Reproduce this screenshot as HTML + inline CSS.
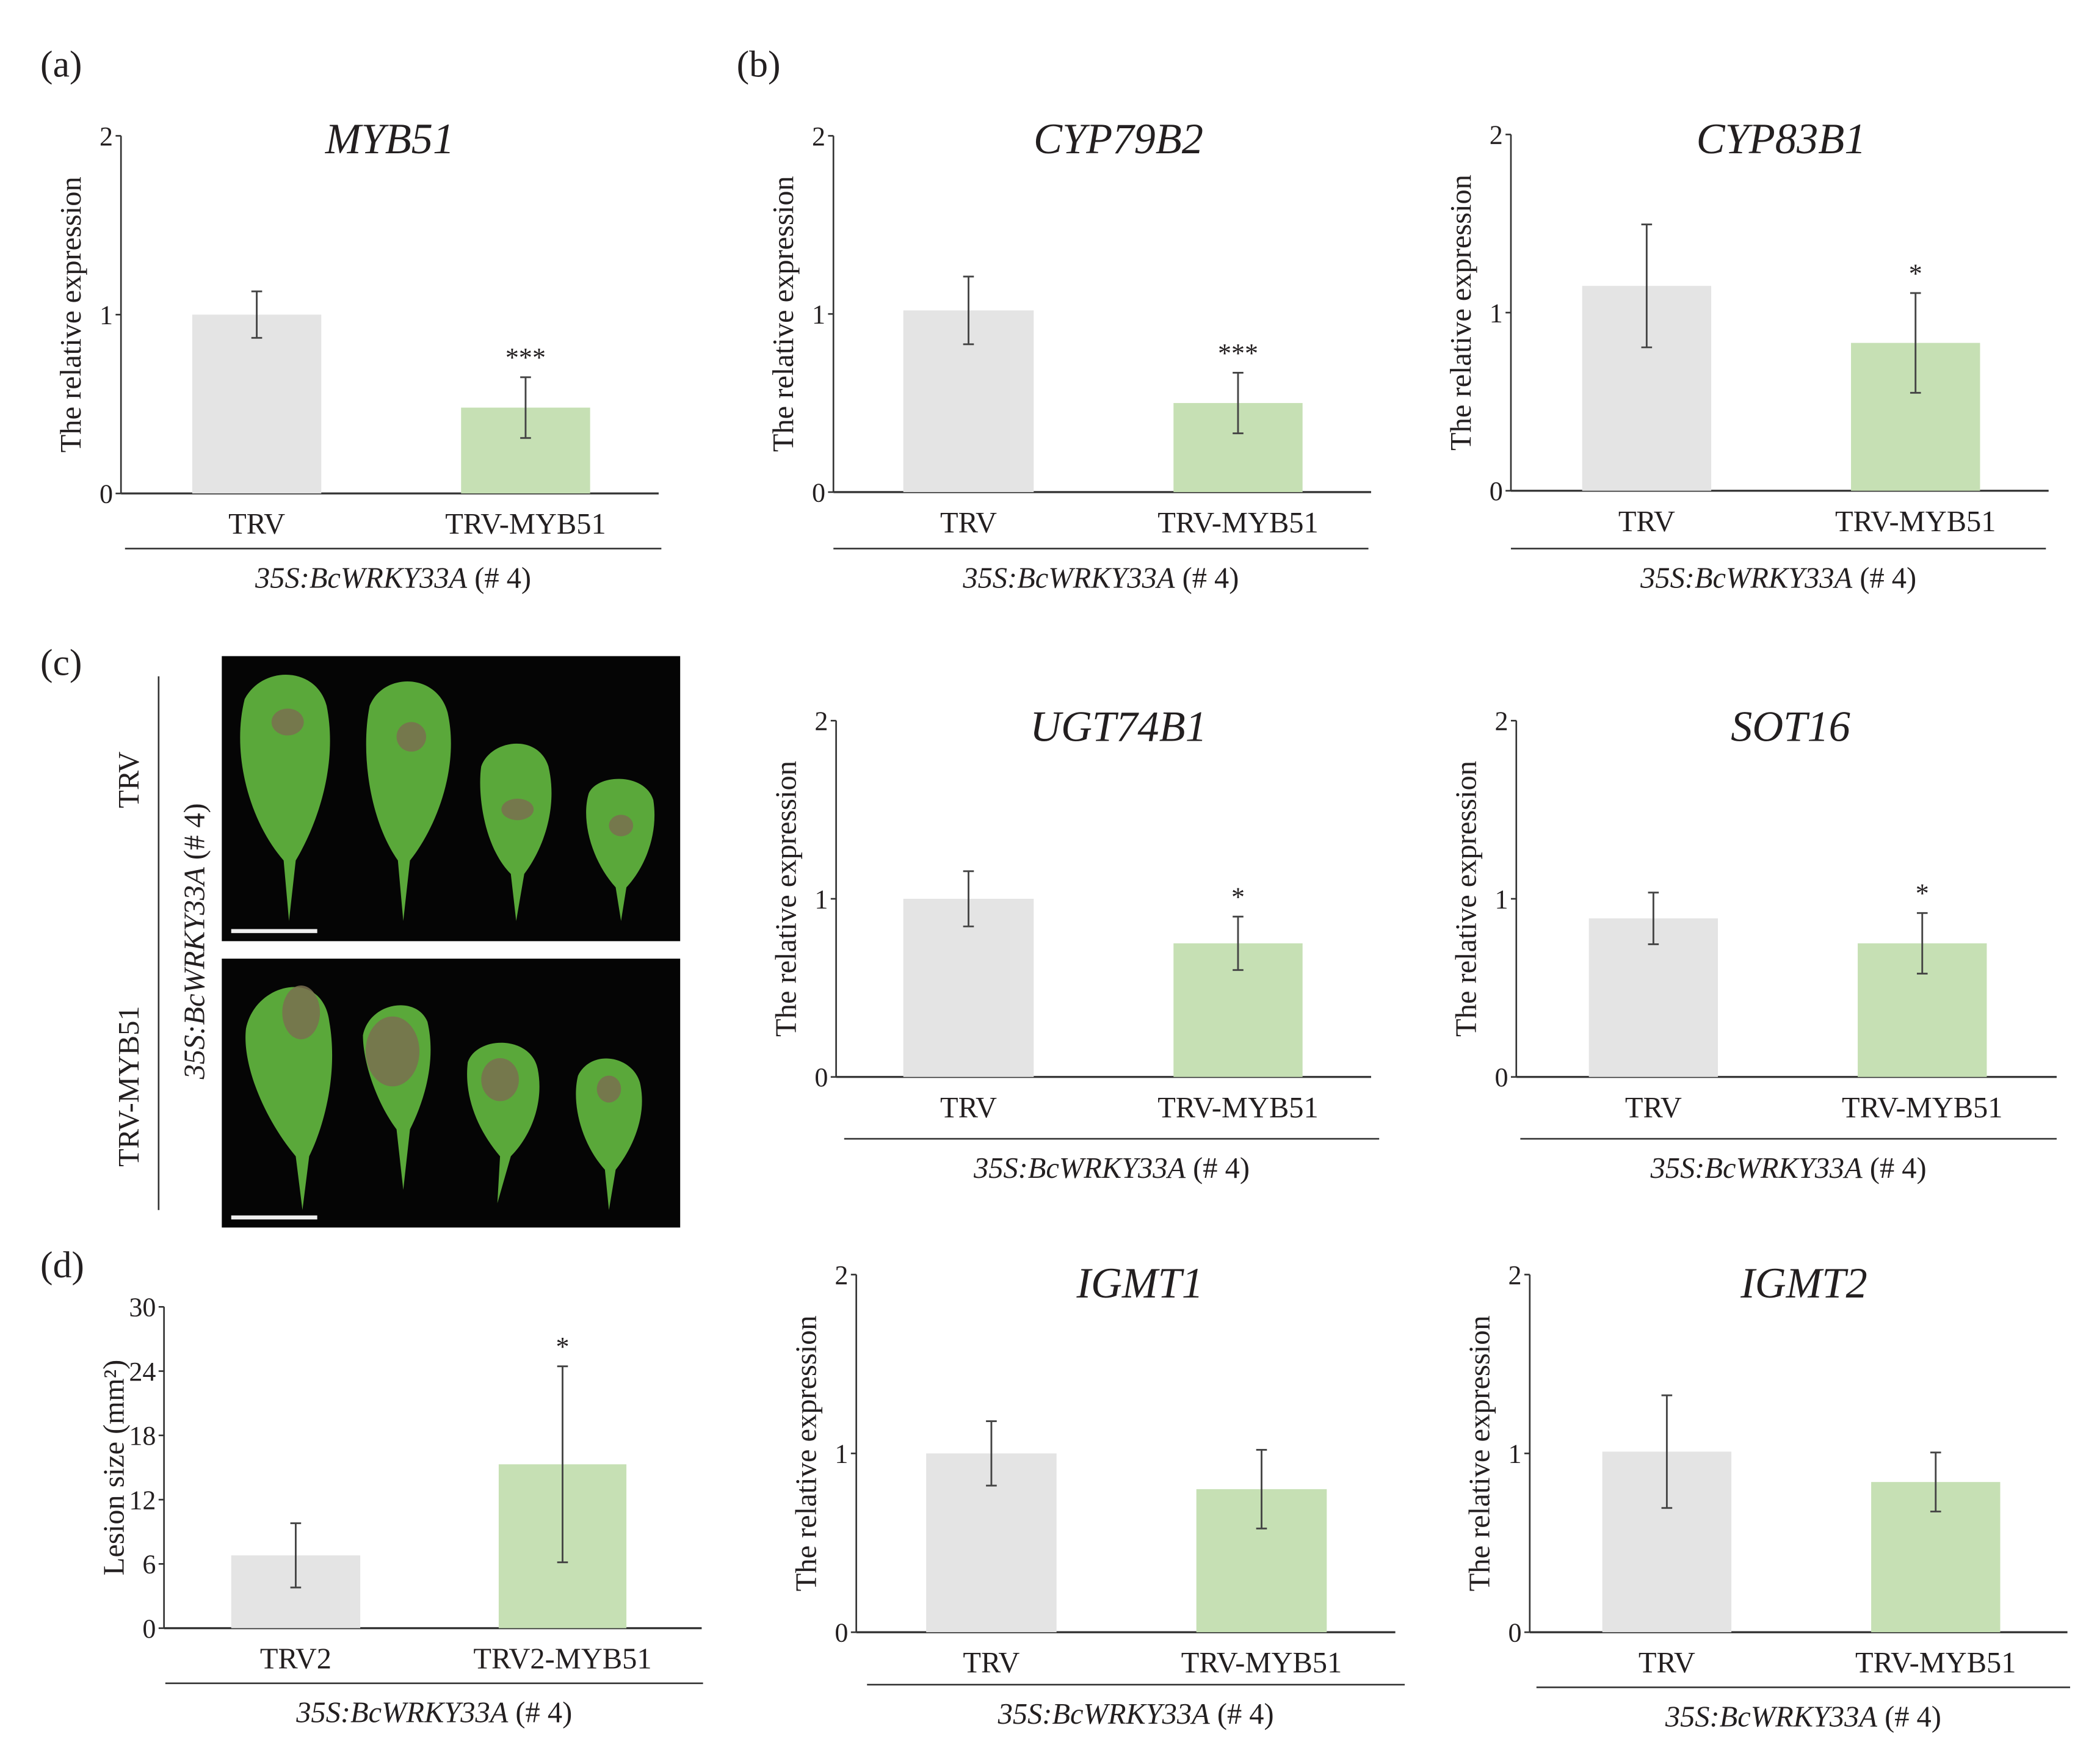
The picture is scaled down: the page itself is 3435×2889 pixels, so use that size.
<!DOCTYPE html>
<html><head><meta charset="utf-8"><style>
html,body{margin:0;padding:0;background:#fff}
svg{display:block;font-family:"Liberation Serif","Times New Roman","DejaVu Serif",serif}
text{font-family:"Liberation Serif","Times New Roman","DejaVu Serif",serif;fill:#231f20}
</style></head><body>
<svg id="fig" width="3435" height="2889" viewBox="0 0 1560 1312" font-family="Liberation Serif, Times New Roman, DejaVu Serif, serif" xmlns="http://www.w3.org/2000/svg">
<text x="30" y="57" font-size="28">(a)</text>
<text x="548" y="57" font-size="28">(b)</text>
<text x="30" y="502" font-size="28">(c)</text>
<text x="30" y="950" font-size="28">(d)</text>
<g>
<line x1="118" y1="503" x2="118" y2="900" stroke="#333" stroke-width="1.2"/>
<text transform="translate(103,580) rotate(-90)" text-anchor="middle" font-size="22">TRV</text>
<text transform="translate(103,808) rotate(-90)" text-anchor="middle" font-size="22">TRV-MYB51</text>
<text transform="translate(152,700) rotate(-90)" text-anchor="middle" font-size="22"><tspan font-style="italic">35S:BcWRKY33A</tspan> (# 4)</text>
<rect x="165" y="488" width="341" height="212" fill="#050505"/>
<rect x="165" y="713" width="341" height="200" fill="#050505"/>
<g fill="#5aa83a">
<path d="M215 685 L211 640 C185 610 172 560 182 520 C195 495 235 495 243 525 C252 570 235 615 220 640 Z"/>
<path d="M300 685 L296 640 C275 610 268 560 275 525 C285 500 325 500 333 530 C342 570 325 615 305 640 Z"/>
<path d="M384 685 L380 650 C360 630 355 590 358 570 C365 550 400 545 408 570 C415 600 405 630 390 650 Z"/>
<path d="M462 685 L458 660 C440 640 432 610 438 590 C445 575 480 575 486 595 C490 620 480 645 466 660 Z"/>
<path d="M225 900 L220 860 C195 830 180 790 183 765 C190 730 240 720 245 760 C252 800 240 840 230 860 Z"/>
<path d="M300 885 L295 840 C280 820 270 790 270 770 C275 745 310 740 318 760 C325 790 315 820 305 840 Z"/>
<path d="M370 895 L372 860 C355 840 345 815 348 790 C355 770 395 770 400 795 C405 820 395 845 380 860 Z"/>
<path d="M453 900 L450 870 C432 850 425 820 430 800 C440 780 470 785 476 805 C482 830 470 855 458 870 Z"/>
</g>
<g fill="#7a7050" opacity="0.85">
<ellipse cx="214" cy="537" rx="12" ry="10"/><ellipse cx="306" cy="548" rx="11" ry="11"/>
<ellipse cx="385" cy="602" rx="12" ry="8"/><ellipse cx="462" cy="614" rx="9" ry="8"/>
<ellipse cx="224" cy="753" rx="14" ry="20"/><ellipse cx="292" cy="782" rx="20" ry="26"/>
<ellipse cx="372" cy="803" rx="14" ry="16"/><ellipse cx="453" cy="810" rx="9" ry="10"/>
</g>
<rect x="172" y="691" width="64" height="3" fill="#eee"/>
<rect x="172" y="904" width="64" height="3" fill="#eee"/>
</g>
<g id="charts"></g>
</svg>
<script>
// ---- data ----
const chartTitles = ["MYB51","CYP79B2","CYP83B1","UGT74B1","SOT16","IGMT1","IGMT2"];
const categories = ["TRV","TRV-MYB51"];
const meanTRV = [1.0, 1.02, 1.15, 1.0, 0.89, 1.0, 1.01];
const meanMYB = [0.48, 0.5, 0.83, 0.75, 0.75, 0.8, 0.84];
const errTRV = [0.13, 0.19, 0.345, 0.155, 0.145, 0.18, 0.315];
const errMYB = [0.17, 0.17, 0.28, 0.15, 0.17, 0.22, 0.165];
const sigMarks = ["***","***","*","*","*","",""];
const yTicks = [0,1,2];
const lesionCategories = ["TRV2","TRV2-MYB51"];
const lesionMeans = [6.8, 15.3];
const lesionErr = [3.0, 9.15];
const lesionSig = ["","*"];
const lesionTicks = [0,6,12,18,24,30];

// ---- layout (not data) ----
const layouts = [
 {ax:90,top:101,bot:367,right:490,b1:[143,239],b2:[343,439],gl:[93,492],gy:408,tx:290,ty:114},
 {ax:620,top:101,bot:366,right:1020,b1:[672,769],b2:[873,969],gl:[620,1018],gy:408,tx:832,ty:114},
 {ax:1124,top:100,bot:365,right:1524,b1:[1177,1273],b2:[1377,1473],gl:[1124,1522],gy:408,tx:1325,ty:114},
 {ax:622,top:536,bot:801,right:1020,b1:[672,769],b2:[873,969],gl:[628,1026],gy:847,tx:832,ty:551},
 {ax:1128,top:536,bot:801,right:1530,b1:[1182,1278],b2:[1382,1478],gl:[1131,1530],gy:847,tx:1332,ty:551},
 {ax:637,top:948,bot:1214,right:1038,b1:[689,786],b2:[890,987],gl:[645,1045],gy:1253,tx:848,ty:965},
 {ax:1138,top:948,bot:1214,right:1538,b1:[1192,1288],b2:[1392,1488],gl:[1143,1540],gy:1255,tx:1342,ty:965}
];
const NS="http://www.w3.org/2000/svg";
const root=document.getElementById('charts');
function mk(tag,attrs,parent,txt){const e=document.createElementNS(NS,tag);for(const k in attrs)e.setAttribute(k,attrs[k]);if(txt!==undefined)e.textContent=txt;parent.appendChild(e);return e;}

function drawChart(L,title,cats,vals,errs,sigs,ticks,ymax,ylabel,idx){
  const g=mk('g',{},root);
  
  
  const y=v=>L.bot-(v/ymax)*(L.bot-L.top);
  const ax=mk('line',{x1:L.ax,y1:L.top,x2:L.ax,y2:L.bot,stroke:'#333','stroke-width':1.2},g);
  
  
  const xa=mk('line',{x1:L.ax,y1:L.bot,x2:L.right,y2:L.bot,stroke:'#333','stroke-width':1.5},g);
  
  
  ticks.forEach(t=>{
    mk('line',{x1:L.ax-4,y1:y(t),x2:L.ax,y2:y(t),stroke:'#333','stroke-width':1.2},g);
    const tl=mk('text',{x:L.ax-6,y:y(t)+7,'text-anchor':'end','font-size':20},g,String(t));
    
    
  });
  const yl=mk('text',{transform:`translate(${L.ax-30},${(L.top+L.bot)/2}) rotate(-90)`,'text-anchor':'middle','font-size':22},g,ylabel);
  
  
  if(title){
    const tt=mk('text',{x:L.tx,y:L.ty,'text-anchor':'middle','font-size':32,'font-style':'italic'},g,title);
    
    
  }
  const bars=[L.b1,L.b2], cols=['#e4e4e4','#c6e0b4'];
  vals.forEach((v,i)=>{
    const b=bars[i];
    const r=mk('rect',{x:b[0],y:y(v),width:b[1]-b[0],height:L.bot-y(v),fill:cols[i]},g);
    
    
    const cx=(b[0]+b[1])/2, lo=y(v-errs[i]), hi=y(v+errs[i]);
    const eb=mk('path',{d:`M${cx} ${lo}V${hi}M${cx-4} ${lo}H${cx+4}M${cx-4} ${hi}H${cx+4}`,stroke:'#444','stroke-width':1.3,fill:'none'},g);
    
    
    if(sigs[i]){
      const s=mk('text',{x:cx,y:hi-8,'text-anchor':'middle','font-size':20},g,sigs[i]);
      
      
    }
    const cl=mk('text',{x:cx,y:L.bot+30,'text-anchor':'middle','font-size':22},g,cats[i]);
    
    
  });
  const gl=mk('line',{x1:L.gl[0],y1:L.gy,x2:L.gl[1],y2:L.gy,stroke:'#333','stroke-width':1.2},g);
  
  
  const gt=mk('text',{x:(L.gl[0]+L.gl[1])/2,y:L.gy+29,'text-anchor':'middle','font-size':22},g);
  
  
  mk('tspan',{'font-style':'italic'},gt,'35S:BcWRKY33A');
  mk('tspan',{},gt,' (# 4)');
}
chartTitles.forEach((t,i)=>{
  drawChart(layouts[i],t,categories,[meanTRV[i],meanMYB[i]],[errTRV[i],errMYB[i]],['',sigMarks[i]],yTicks,2,'The relative expression',t.toLowerCase());
});
drawChart({ax:122,top:972,bot:1211,right:522,b1:[172,268],b2:[371,466],gl:[123,523],gy:1252},
  null,lesionCategories,lesionMeans,lesionErr,lesionSig,lesionTicks,30,'Lesion size (mm²)','lesion-size');
</script>
</body></html>
